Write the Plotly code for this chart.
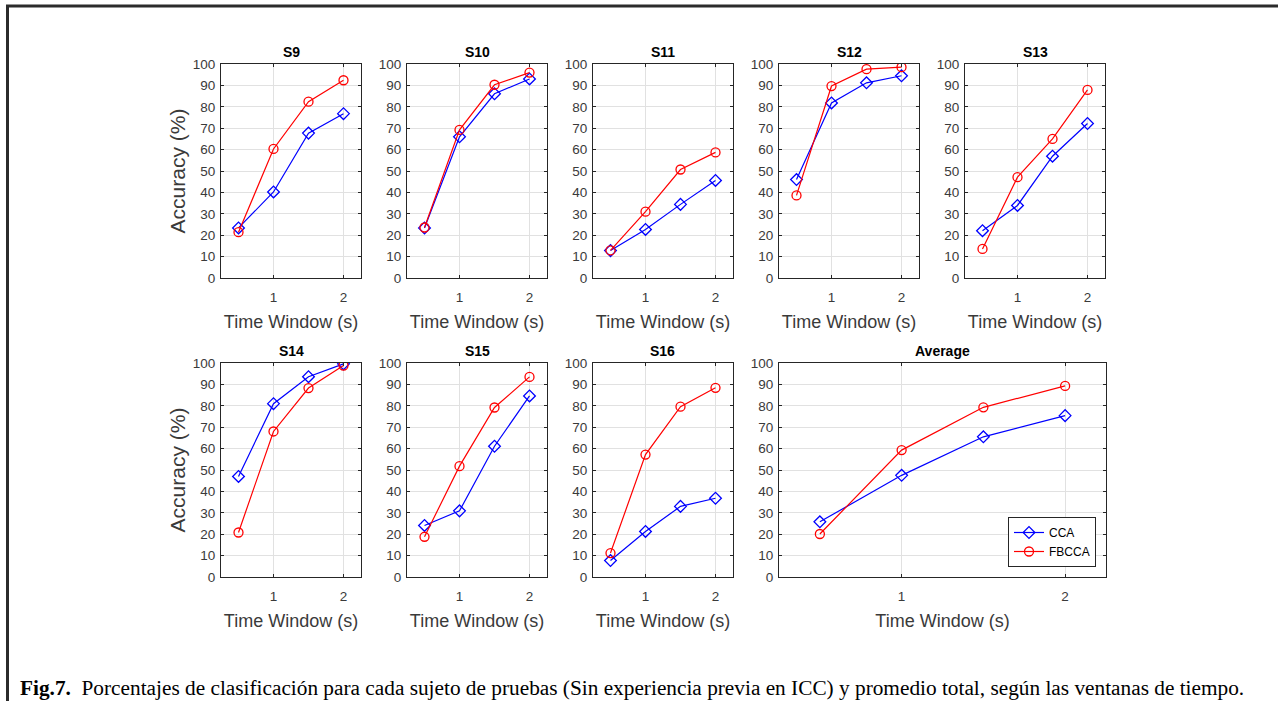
import plotly.graph_objects as go

# ---------------- data ----------------
time_windows = [0.5, 1.0, 1.5, 2.0]
subjects = ["S9", "S10", "S11", "S12", "S13", "S14", "S15", "S16", "Average"]

cca_s9 = [23.4, 40.2, 67.7, 76.8]
fbcca_s9 = [21.4, 60.3, 82.4, 92.4]
cca_s10 = [23.4, 66.0, 86.1, 93.0]
fbcca_s10 = [23.6, 69.2, 90.3, 96.0]
cca_s11 = [12.8, 22.7, 34.4, 45.6]
fbcca_s11 = [12.9, 31.0, 50.7, 58.7]
cca_s12 = [46.0, 81.8, 91.2, 94.5]
fbcca_s12 = [38.6, 89.7, 97.6, 98.5]
cca_s13 = [22.1, 33.9, 56.9, 72.2]
fbcca_s13 = [13.6, 47.1, 65.0, 87.9]
cca_s14 = [47.0, 81.0, 93.6, 99.6]
fbcca_s14 = [20.8, 68.0, 88.3, 98.8]
cca_s15 = [24.1, 30.9, 61.1, 84.6]
fbcca_s15 = [18.8, 51.8, 79.2, 93.5]
cca_s16 = [7.7, 21.3, 33.0, 36.8]
fbcca_s16 = [11.2, 57.2, 79.6, 88.4]
cca_avg = [25.8, 47.5, 65.5, 75.4]
fbcca_avg = [20.1, 59.3, 79.3, 89.3]

cca_all = [cca_s9, cca_s10, cca_s11, cca_s12, cca_s13, cca_s14, cca_s15, cca_s16, cca_avg]
fbcca_all = [fbcca_s9, fbcca_s10, fbcca_s11, fbcca_s12, fbcca_s13, fbcca_s14, fbcca_s15, fbcca_s16, fbcca_avg]

x_tick_vals = [1, 2]
y_tick_vals = list(range(0, 101, 10))
x_label = "Time Window (s)"
y_label = "Accuracy (%)"
caption_bold = "Fig.7."
caption_text = "  Porcentajes de clasificación para cada sujeto de pruebas (Sin experiencia previa en ICC) y promedio total, según las ventanas de tiempo."

# ---------------- layout geometry (pixels) ----------------
W, H = 1278, 701
col_left = [221, 407, 593, 779, 965]
ax_w = 140
row_top = [64, 363]
ax_h = 214
boxes = []
for i in range(5):
    boxes.append((col_left[i], col_left[i] + ax_w, row_top[0], row_top[0] + ax_h))
for i in range(3):
    boxes.append((col_left[i], col_left[i] + ax_w, row_top[1], row_top[1] + ax_h))
boxes.append((779, 1106, row_top[1], row_top[1] + ax_h))

def px(x):
    return x / W

def py(y):
    return 1 - y / H

AX_COLOR = "#262626"
TICK_COLOR = "#3a3a3a"
GRID_COLOR = "#e1e1e1"
FONT = "Liberation Sans, Arial, Helvetica, sans-serif"

fig = go.Figure()
layout = {}
annotations = []

for i, name in enumerate(subjects):
    l, r, t, b = boxes[i]
    idx = "" if i == 0 else str(i + 1)
    xa = "x" + idx
    ya = "y" + idx
    last = (i == len(subjects) - 1)
    fig.add_trace(go.Scatter(
        x=time_windows, y=cca_all[i], mode="lines+markers", name="CCA",
        line=dict(color="#0000ff", width=1.2),
        marker=dict(symbol="diamond-open", size=9, color="#0000ff", line=dict(width=1.3)),
        xaxis=xa, yaxis=ya, showlegend=last, legendrank=1))
    fig.add_trace(go.Scatter(
        x=time_windows, y=fbcca_all[i], mode="lines+markers", name="FBCCA",
        line=dict(color="#ff0000", width=1.2),
        marker=dict(symbol="circle-open", size=9, color="#ff0000", line=dict(width=1.3)),
        xaxis=xa, yaxis=ya, showlegend=last, legendrank=2))

    layout["xaxis" + idx] = dict(
        domain=[px(l), px(r)], anchor=ya, range=[0.25, 2.25],
        tickvals=x_tick_vals, ticktext=[str(v) for v in x_tick_vals],
        showgrid=True, gridcolor=GRID_COLOR, gridwidth=1,
        showline=True, linecolor=AX_COLOR, linewidth=1, mirror="ticks",
        ticks="inside", ticklen=3, tickcolor=AX_COLOR,
        tickfont=dict(family=FONT, size=13.5, color=TICK_COLOR),
        ticklabelstandoff=7,
        zeroline=False, fixedrange=True,
        title=dict(text=x_label, font=dict(family=FONT, size=18, color=TICK_COLOR), standoff=11),
    )
    layout["yaxis" + idx] = dict(
        domain=[py(b), py(t)], anchor=xa, range=[0, 100],
        tickvals=y_tick_vals, ticktext=[str(v) for v in y_tick_vals],
        showgrid=True, gridcolor=GRID_COLOR, gridwidth=1,
        showline=True, linecolor=AX_COLOR, linewidth=1, mirror="ticks",
        ticks="inside", ticklen=3, tickcolor=AX_COLOR,
        tickfont=dict(family=FONT, size=13.5, color=TICK_COLOR),
        ticklabelstandoff=2,
        zeroline=False, fixedrange=True,
    )
    if i in (0, 5):
        layout["yaxis" + idx]["title"] = dict(
            text=y_label, font=dict(family=FONT, size=21, color=TICK_COLOR), standoff=1)

    annotations.append(dict(
        text="<b>" + name + "</b>", x=(px(l) + px(r)) / 2, y=py(t) + 2 / H,
        xref="paper", yref="paper", xanchor="center", yanchor="bottom",
        showarrow=False, font=dict(family=FONT, size=14, color="#000000")))

annotations.append(dict(
    text="<b>" + caption_bold + "</b>" + caption_text,
    x=px(18), y=py(688), xref="paper", yref="paper", xanchor="left", yanchor="middle",
    showarrow=False, font=dict(family="Liberation Serif, Times New Roman, serif", size=21.3, color="#000000")))

shapes = [
    dict(type="line", xref="paper", yref="paper", x0=px(6), x1=1.0, y0=py(6), y1=py(6),
         line=dict(color="#2b2b2b", width=3)),
    dict(type="line", xref="paper", yref="paper", x0=px(7.5), x1=px(7.5), y0=py(5), y1=0,
         line=dict(color="#2b2b2b", width=3)),
]

fig.update_layout(
    width=W, height=H,
    margin=dict(l=0, r=0, t=0, b=0, autoexpand=False),
    paper_bgcolor="white", plot_bgcolor="white",
    showlegend=True,
    legend=dict(
        x=px(1096), y=py(567), xanchor="right", yanchor="bottom",
        bgcolor="white", bordercolor=AX_COLOR, borderwidth=1,
        font=dict(family=FONT, size=12, color="#000000"),
        itemwidth=30, tracegroupgap=0,
    ),
    annotations=annotations,
    shapes=shapes,
    **layout,
)

fig.write_html(
    "out.html",
    config={"displayModeBar": False},
    post_script="document.body.style.margin='0';document.body.style.overflow='hidden';"
                "document.documentElement.style.overflow='hidden';",
)
